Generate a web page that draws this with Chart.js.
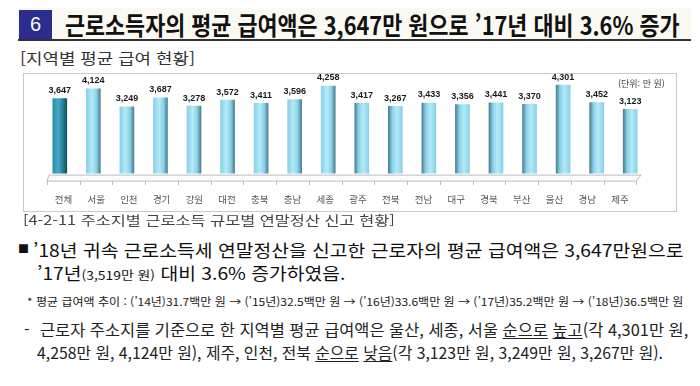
<!DOCTYPE html>
<html lang="ko">
<head>
<meta charset="utf-8">
<script src="https://cdn.jsdelivr.net/npm/chart.js@4"></script>
<style>
  body { margin: 0; width: 700px; height: 386px; background: #fff; position: relative; overflow: hidden;
         font-family: "Noto Sans CJK KR", sans-serif; color: #222; }
  .t { position: absolute; white-space: nowrap; line-height: 1; transform-origin: 0 50%; }
  #head { position: absolute; left: 18px; top: 8px; width: 673px; height: 31px; background: #fbfaf2; border-bottom: 2px solid #333; }
  #num { position: absolute; left: 19px; top: 10px; width: 33px; height: 29px; background: #2c2d8f; color: #fff;
         font: 20px "Liberation Sans", sans-serif; text-align: center; line-height: 29px; }
  #box { position: absolute; left: 23px; top: 73px; width: 652px; height: 137px; border: 1px solid #c9c9c9; }
  #chartWrap { position: absolute; left: 23px; top: 73px; width: 654px; height: 150px; }
  #unit { position: absolute; left: 618px; top: 79px; font-size: 9px; color: #444; line-height: 1; white-space: nowrap; }
  small { font-size: 0.72em; }
  u { text-decoration-thickness: 1px; text-underline-offset: 2px; }
</style>
</head>
<body>
<div id="head"></div>
<div id="num">6</div>
<div class="t" data-w="615" style="left:65px; top:12px; font-size:25px; font-weight:700; color:#111;">근로소득자의 평균 급여액은 3,647만 원으로 ’17년 대비 3.6% 증가</div>

<div class="t" data-w="175" style="left:20px; top:50px; font-size:15px; color:#333;">[지역별 평균 급여 현황]</div>

<div id="box"></div>
<div id="chartWrap"><canvas id="salaryChart" width="654" height="150"></canvas></div>
<div id="unit">(단위: 만 원)</div>

<div class="t" data-w="372" style="left:23px; top:213px; font-size:13px; color:#444;">[4-2-11 주소지별 근로소득 규모별 연말정산 신고 현황]</div>

<div class="t" style="left:18px; top:243px; font-size:11px; color:#111;">■</div>
<div class="t" id="p1" data-w="650" style="left:33px; top:241px; font-size:17px; color:#111;">’18년 귀속 근로소득세 연말정산을 신고한 근로자의 평균 급여액은 3,647만원으로</div>
<div class="t" data-like="p1" style="left:37px; top:264px; font-size:17px; color:#111;">’17년<small>(3,519만 원)</small> 대비 3.6% 증가하였음.</div>

<div class="t" data-w="656" style="left:27px; top:296px; font-size:11px; color:#222;">* 평균 급여액 추이 : (’14년)31.7백만 원 → (’15년)32.5백만 원 → (’16년)33.6백만 원 → (’17년)35.2백만 원 → (’18년)36.5백만 원</div>

<div class="t" style="left:24px; top:321px; font-size:16px; color:#222;">-</div>
<div class="t" data-w="648" style="left:40px; top:321px; font-size:16px; color:#222;">근로자 주소지를 기준으로 한 지역별 평균 급여액은 울산, 세종, 서울 <u>순으로</u> <u>높고</u>(각 4,301만 원,</div>
<div class="t" data-w="626" style="left:37px; top:344px; font-size:16px; color:#222;">4,258만 원, 4,124만 원), 제주, 인천, 전북 <u>순으로</u> <u>낮음</u>(각 3,123만 원, 3,249만 원, 3,267만 원).</div>

<script>
const regions = ["전체", "서울", "인천", "경기", "강원", "대전", "충북", "충남", "세종",
                 "광주", "전북", "전남", "대구", "경북", "부산", "울산", "경남", "제주"];
const salaries = [3647, 4124, 3249, 3687, 3278, 3572, 3411, 3596, 4258,
                  3417, 3267, 3433, 3356, 3441, 3370, 4301, 3452, 3123];
const yMax = 4500;

// shading of the pseudo-3D columns, the total column is darker
const totalShade = ["#2c8eaa", "#46a9c3", "#23809a", "#164f60"];
const regionShade = ["#88d1e8", "#b4eaf8", "#8ad2e8", "#4b7f90"];

function barFill(ctx) {
  const chart = ctx.chart;
  const i = ctx.dataIndex;
  const pal = i === 0 ? totalShade : regionShade;
  if (!chart.chartArea) return pal[1];
  const x = chart.scales.x.getPixelForValue(i);
  const g = chart.ctx.createLinearGradient(x - 7, 0, x + 7, 0);
  const flip = i > (regions.length - 1) / 2;
  [[0, pal[0]], [0.4, pal[1]], [0.72, pal[2]], [1, pal[3]]]
    .forEach(([p, c]) => g.addColorStop(flip ? 1 - p : p, c));
  return g;
}

const floorPlugin = {
  id: "floor",
  beforeDatasetsDraw(chart) {
    const { ctx, chartArea: a } = chart;
    const lab = chart.scales.x2;
    const fy = a.bottom + 7.5, by = a.bottom + 1.5;
    const fl = lab.getPixelForValue(-0.5), fr = lab.getPixelForValue(regions.length - 0.5);
    ctx.save();
    ctx.strokeStyle = "#bdbdbd";
    ctx.lineWidth = 1;
    ctx.fillStyle = "#fbfbfb";
    ctx.beginPath();
    ctx.moveTo(fl, fy);
    ctx.lineTo(a.left + 6, by);
    ctx.lineTo(a.right - 6, by);
    ctx.lineTo(fr, fy);
    ctx.closePath();
    ctx.fill();
    ctx.stroke();
    ctx.beginPath();
    for (let i = 0; i <= regions.length; i++) {
      const x = Math.round(lab.getPixelForValue(i - 0.5)) + 0.5;
      ctx.moveTo(x, fy);
      ctx.lineTo(x, fy + 4);
    }
    ctx.stroke();
    ctx.restore();
  }
};

const valueLabels = {
  id: "valueLabels",
  afterDatasetsDraw(chart) {
    const ctx = chart.ctx;
    const meta = chart.getDatasetMeta(0);
    ctx.save();
    ctx.font = 'bold 9px "Liberation Sans"';
    ctx.fillStyle = "#1a1a1a";
    ctx.textAlign = "center";
    ctx.textBaseline = "middle";
    meta.data.forEach((bar, i) => {
      ctx.fillText(salaries[i].toLocaleString("en-US"), bar.x, bar.y - 8);
    });
    ctx.restore();
  }
};

new Chart(document.getElementById("salaryChart"), {
  type: "bar",
  data: {
    labels: regions,
    datasets: [{
      data: salaries,
      backgroundColor: barFill,
      borderWidth: 0,
      barThickness: 14,
      xAxisID: "x",
      yAxisID: "y"
    }]
  },
  options: {
    responsive: false,
    animation: false,
    devicePixelRatio: 1,
    layout: { padding: { left: 20, right: 30, top: 8, bottom: 6 } },
    plugins: { legend: { display: false }, tooltip: { enabled: false } },
    scales: {
      x: { type: "category", display: false, offset: true },
      x2: {
        type: "linear",
        position: "bottom",
        min: -0.11,
        max: 17.31,
        grid: { display: false },
        border: { display: false },
        ticks: {
          stepSize: 1,
          includeBounds: false,
          autoSkip: false,
          maxRotation: 0,
          padding: 12,
          color: "#555",
          font: { family: "Noto Sans CJK KR", size: 9.5 },
          callback: (v) => regions[v] ?? ""
        }
      },
      y: { display: false, min: 0, max: yMax }
    }
  },
  plugins: [floorPlugin, valueLabels]
});

// squeeze each text line to the width it has in the original page
function fitLines() {
  const scales = {};
  document.querySelectorAll(".t[data-w]").forEach((el) => {
    el.style.transform = "none";
    const s = Number(el.dataset.w) / el.scrollWidth;
    el.style.transform = `scaleX(${s})`;
    if (el.id) scales[el.id] = s;
  });
  document.querySelectorAll(".t[data-like]").forEach((el) => {
    el.style.transform = `scaleX(${scales[el.dataset.like] || 1})`;
  });
}
fitLines();
document.fonts.ready.then(fitLines);
</script>
</body>
</html>
